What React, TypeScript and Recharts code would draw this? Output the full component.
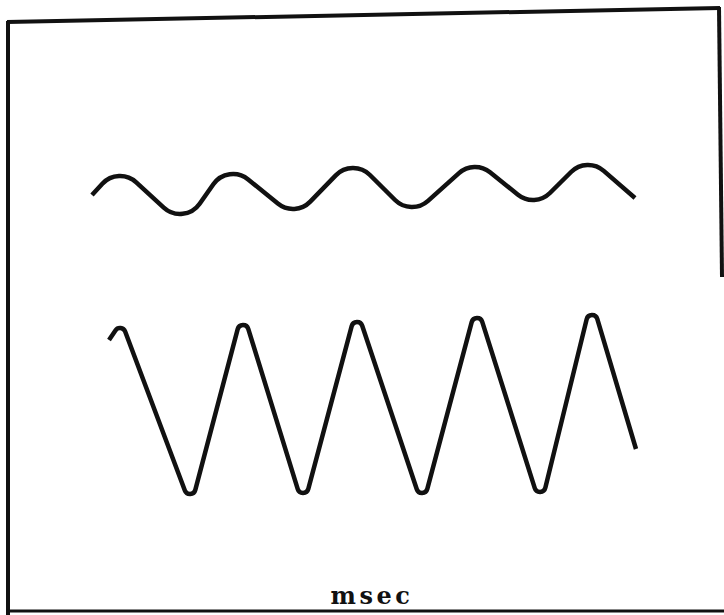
import React from 'react';
import { LineChart, Line, XAxis, YAxis, ReferenceLine, ReferenceDot } from 'recharts';

// Oscilloscope-style record: two traces against time (msec).
// t = time, v = trace level (arbitrary units). Each trace is given by its turning points.

// Upper trace: low-amplitude oscillation
const upperT = [9.2, 12.0, 18.0, 23.3, 29.3, 35.3, 41.2, 47.5, 53.3, 58.8, 63.5];
const upperV = [42.0, 43.9, 40.1, 44.1, 40.6, 44.7, 40.8, 44.8, 41.5, 45.0, 41.7];

// Lower trace: high-amplitude oscillation
const lowerT = [10.9, 12.0, 19.0, 24.3, 30.3, 35.7, 42.2, 47.7, 54.0, 59.2, 63.6];
const lowerV = [27.5, 28.7, 12.1, 29.0, 12.2, 29.3, 12.2, 29.7, 12.3, 30.0, 16.6];

const axisLabel = 'msec';

const upperTrace = upperT.map((t, i) => ({ t, v: upperV[i] }));
const lowerTrace = lowerT.map((t, i) => ({ t, v: lowerV[i] }));

const INK = '#111111';

// A d3-style curve: straight flanks joined by circular caps that pass
// through each turning point (horizontal tangent at the peak/trough).
type Node = { x: number; y: number; kind: number; cx: number; cy: number; r: number };

function roundedTips(radius: number) {
  return (context: any) => {
    let pts: [number, number][] = [];

    const tangentFrom = (px: number, py: number, n: Node): [number, number] => {
      const dx = px - n.cx;
      const dy = py - n.cy;
      const d = Math.hypot(dx, dy);
      if (d <= n.r) return [n.x, n.y];
      const th = Math.atan2(dy, dx);
      const al = Math.acos(n.r / d);
      const a: [number, number] = [n.cx + n.r * Math.cos(th + al), n.cy + n.r * Math.sin(th + al)];
      const b: [number, number] = [n.cx + n.r * Math.cos(th - al), n.cy + n.r * Math.sin(th - al)];
      // peaks (kind 1) sit on top of their circle, troughs (kind -1) at the bottom
      if (n.kind === 1) return a[1] < b[1] ? a : b;
      return a[1] > b[1] ? a : b;
    };

    const segmentEnds = (a: Node, b: Node) => {
      if (a.kind === 0 && b.kind === 0) return { pa: [a.x, a.y] as [number, number], pb: [b.x, b.y] as [number, number] };
      if (a.kind === 0) return { pa: [a.x, a.y] as [number, number], pb: tangentFrom(a.x, a.y, b) };
      if (b.kind === 0) return { pa: tangentFrom(b.x, b.y, a), pb: [b.x, b.y] as [number, number] };
      const mx = (a.cx + b.cx) / 2;
      const my = (a.cy + b.cy) / 2;
      return { pa: tangentFrom(mx, my, a), pb: tangentFrom(mx, my, b) };
    };

    return {
      areaStart() {},
      areaEnd() {},
      lineStart() {
        pts = [];
      },
      point(x: number, y: number) {
        pts.push([+x, +y]);
      },
      lineEnd() {
        const n = pts.length;
        if (n === 0) return;
        const nodes: Node[] = pts.map(([x, y], i) => {
          let kind = 0;
          if (i > 0 && i < n - 1) {
            const yp = pts[i - 1][1];
            const yn = pts[i + 1][1];
            if (y < yp && y < yn) kind = 1;
            else if (y > yp && y > yn) kind = -1;
          }
          const r = kind === 0 ? 0 : radius;
          return { x, y, kind, r, cx: x, cy: y + kind * r };
        });
        context.moveTo(nodes[0].x, nodes[0].y);
        if (n === 1) return;
        const ends = [];
        for (let i = 0; i < n - 1; i++) ends.push(segmentEnds(nodes[i], nodes[i + 1]));
        for (let i = 1; i < n; i++) {
          const node = nodes[i];
          const inPt = ends[i - 1].pb;
          context.lineTo(inPt[0], inPt[1]);
          if (node.kind !== 0 && i < n - 1) {
            const outPt = ends[i].pa;
            const a0 = Math.atan2(inPt[1] - node.cy, inPt[0] - node.cx);
            const a1 = Math.atan2(outPt[1] - node.cy, outPt[0] - node.cx);
            context.arc(node.cx, node.cy, node.r, a0, a1, node.kind === -1);
          }
        }
      },
    };
  };
}

const upperCurve = roundedTips(24);
const lowerCurve = roundedTips(5.5);

export default function App() {
  return (
    <div style={{ position: 'absolute', left: 0, top: 0, width: 724, height: 615, background: '#ffffff' }}>
      <LineChart width={724} height={615} margin={{ top: 0, right: 0, bottom: 0, left: 0 }}>
        <XAxis type="number" dataKey="t" domain={[0, 72.4]} hide allowDataOverflow />
        <YAxis type="number" dataKey="v" domain={[0, 61.5]} hide allowDataOverflow />

        {/* frame */}
        <ReferenceLine segment={[{ x: 0.7, y: 59.3 }, { x: 72.0, y: 60.7 }]} stroke={INK} strokeWidth={4} ifOverflow="visible" />
        <ReferenceLine segment={[{ x: 0.8, y: 59.4 }, { x: 0.8, y: 0 }]} stroke={INK} strokeWidth={4} ifOverflow="visible" />
        <ReferenceLine segment={[{ x: 71.9, y: 60.8 }, { x: 72.2, y: 33.8 }]} stroke={INK} strokeWidth={4} ifOverflow="visible" />
        <ReferenceLine segment={[{ x: 0.6, y: 0.4 }, { x: 72.4, y: 0.4 }]} stroke={INK} strokeWidth={3} ifOverflow="visible" />

        <Line data={upperTrace} dataKey="v" type={upperCurve as any} stroke={INK} strokeWidth={4.5} dot={false} activeDot={false} isAnimationActive={false} />
        <Line data={lowerTrace} dataKey="v" type={lowerCurve as any} stroke={INK} strokeWidth={4.5} dot={false} activeDot={false} isAnimationActive={false} />

        <ReferenceDot
          x={37.2}
          y={2.0}
          r={0}
          fill="none"
          stroke="none"
          ifOverflow="visible"
          label={{ value: axisLabel, position: 'center', fill: INK, fontFamily: 'DejaVu Serif', fontWeight: 'bold', fontSize: 24, letterSpacing: 3.5 }}
        />
      </LineChart>
    </div>
  );
}
